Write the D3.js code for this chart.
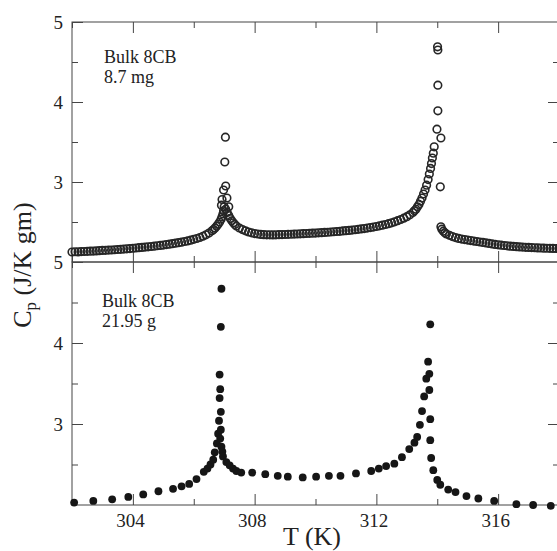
<!DOCTYPE html>
<html><head><meta charset="utf-8">
<script src="https://cdn.jsdelivr.net/npm/d3@7"></script>
<style>html,body{margin:0;padding:0;background:#fff;} svg{display:block;} svg text{font-family:"Liberation Serif","Times New Roman",Times,serif;}</style>
</head><body>
<svg id="chart" width="557" height="551"></svg>
<script>
// ---- Top panel (8.7 mg), open circles ----
const topT = [
  302.0,302.1,302.2,302.3,302.4,302.5,302.6,302.7,302.8,302.9,
  303.0,303.1,303.2,303.3,303.4,303.5,303.6,303.7,303.8,303.9,
  304.0,304.1,304.2,304.3,304.4,304.5,304.6,304.7,304.8,304.9,
  305.0,305.1,305.2,305.3,305.4,305.5,305.6,305.7,305.8,305.9,
  306.0,306.1,306.2,306.3,306.4,306.5,306.6,306.65,306.7,306.75,
  306.8,306.85,306.9,306.93,306.96,306.98,307.0,
  306.91,306.93,306.98,307.05,307.09,307.02,307.04,307.15,
  307.05,307.1,307.15,307.2,307.25,307.3,307.35,307.4,307.5,307.6,
  307.7,307.8,307.9,308.0,
  308.1,308.2,308.3,308.4,308.5,308.6,308.7,308.8,308.9,309.0,
  309.1,309.2,309.3,309.4,309.5,309.6,309.7,309.8,309.9,310.0,
  310.1,310.2,310.3,310.4,310.5,310.6,310.7,310.8,310.9,311.0,
  311.1,311.2,311.3,311.4,311.5,311.6,311.7,311.8,311.9,312.0,
  312.1,312.2,312.3,312.4,312.5,312.6,312.7,312.8,312.9,313.0,
  313.1,313.2,313.25,313.3,313.35,313.4,313.45,313.5,313.55,313.6,
  313.65,313.7,313.74,313.78,313.81,313.84,313.87,313.9,
  313.99,314.12,314.02,314.02,314.02,314.01,314.10,
  314.12,314.15,314.2,314.25,314.3,314.4,314.5,314.6,314.7,314.8,314.9,
  315.0,315.1,315.2,315.3,315.4,315.5,315.6,315.7,315.8,315.9,
  316.0,316.1,316.2,316.3,316.4,316.5,316.6,316.7,316.8,316.9,
  317.0,317.1,317.2,317.3,317.4,317.5,317.6,317.7,317.8,317.9,318.0
];
const topCp = [
  2.125,2.128,2.126,2.130,2.131,2.133,2.135,2.136,2.139,2.141,
  2.145,2.146,2.149,2.150,2.153,2.156,2.158,2.162,2.165,2.168,
  2.172,2.175,2.179,2.182,2.186,2.190,2.194,2.198,2.203,2.207,
  2.212,2.218,2.223,2.229,2.235,2.241,2.248,2.256,2.264,2.273,
  2.283,2.294,2.306,2.322,2.340,2.362,2.390,2.405,2.425,2.447,
  2.472,2.500,2.535,2.565,2.600,2.640,2.690,
  2.71,2.78,2.90,2.95,2.80,3.25,3.56,2.69,
  2.66,2.62,2.58,2.545,2.515,2.49,2.47,2.45,2.425,2.405,
  2.39,2.375,2.365,2.355,
  2.350,2.345,2.342,2.340,2.340,2.338,2.340,2.341,2.343,2.344,
  2.346,2.347,2.349,2.350,2.352,2.354,2.356,2.358,2.360,2.362,
  2.365,2.367,2.370,2.372,2.375,2.378,2.381,2.384,2.388,2.391,
  2.395,2.399,2.403,2.408,2.413,2.418,2.424,2.430,2.437,2.444,
  2.452,2.460,2.469,2.479,2.490,2.502,2.516,2.531,2.548,2.567,
  2.59,2.62,2.64,2.66,2.69,2.72,2.76,2.80,2.85,2.90,
  2.96,3.03,3.10,3.17,3.23,3.30,3.36,3.44,
  3.66,3.55,3.89,4.21,4.65,4.69,2.94,
  2.44,2.41,2.385,2.365,2.35,2.333,2.318,2.305,2.295,2.287,2.280,
  2.274,2.268,2.262,2.256,2.250,2.245,2.238,2.232,2.226,2.220,
  2.215,2.210,2.206,2.202,2.198,2.195,2.192,2.189,2.186,2.184,
  2.182,2.180,2.178,2.176,2.175,2.173,2.172,2.171,2.170,2.169,2.168
];
// ---- Bottom panel (21.95 g), filled circles ----
const botT = [
  302.07,302.70,303.32,303.85,304.34,304.84,305.32,305.60,305.85,306.09,
  306.33,306.45,306.55,306.64,306.69,306.76,306.80,306.83,306.85,306.85,
  306.87,306.87,306.89,306.89,306.89,306.91,306.91,306.94,306.96,307.07,
  307.18,307.29,307.40,307.56,307.92,308.35,308.76,309.09,309.58,310.02,
  310.44,310.82,311.33,311.83,312.08,312.32,312.59,312.84,313.08,313.25,
  313.34,313.43,313.50,313.57,313.64,313.70,313.74,313.74,313.77,313.77,
  313.77,313.80,313.87,314.00,314.10,314.36,314.60,314.96,315.35,315.87,
  316.60,317.15,317.73
];
const botCp = [
  2.03,2.05,2.07,2.10,2.13,2.17,2.20,2.23,2.26,2.32,
  2.41,2.45,2.50,2.56,2.65,2.76,2.88,3.04,3.32,3.61,
  2.82,3.43,2.93,3.15,4.20,4.67,2.72,2.66,2.60,2.53,
  2.49,2.45,2.42,2.40,2.40,2.38,2.36,2.35,2.34,2.35,
  2.36,2.36,2.39,2.42,2.45,2.48,2.51,2.59,2.69,2.77,
  2.84,2.99,3.16,3.34,3.56,3.77,3.62,3.42,4.23,3.06,
  2.80,2.58,2.43,2.31,2.25,2.19,2.16,2.11,2.08,2.05,
  2.01,2.00,1.99
];
const xMajorTicks = [304, 308, 312, 316];
const xMinorTicks = [302, 306, 310, 314, 318];
const yMajorTicks = [3, 4, 5];
const yMinorTicks = [2.5, 3.5, 4.5];
const topLabel = ["Bulk 8CB", "8.7 mg"];
const botLabel = ["Bulk 8CB", "21.95 g"];
const xTitle = "T (K)";

const svg = d3.select("#chart");
const font = "'Liberation Serif','Times New Roman',Times,serif";
const axisColor = "#454545";
const textColor = "#222";

const x = d3.scaleLinear().domain([302, 318]).range([72, 559]);
const yTop = d3.scaleLinear().domain([2, 5]).range([262, 22]);
const yBot = d3.scaleLinear().domain([2, 5]).range([505, 262]);

function styleAxis(g) {
  g.select(".domain").remove();
  g.selectAll("line").attr("stroke", axisColor).attr("stroke-width", 1);
  g.selectAll("text").attr("font-family", font).attr("font-size", 19).attr("fill", textColor);
}

function drawPanel(y, showXLabels) {
  const y0 = y(5), y1 = y(2);
  svg.append("rect").attr("x", x(302)).attr("y", y0)
    .attr("width", x(318) - x(302)).attr("height", y1 - y0)
    .attr("fill", "none").attr("stroke", axisColor).attr("stroke-width", 1);
  svg.append("g").attr("transform", `translate(${x(302)},0)`)
    .call(d3.axisLeft(y).tickValues(yMajorTicks).tickSize(-11).tickSizeOuter(0).tickPadding(9).tickFormat(d3.format("d")))
    .call(styleAxis);
  svg.append("g").attr("transform", `translate(${x(302)},0)`)
    .call(d3.axisLeft(y).tickValues(yMinorTicks).tickSize(-6).tickSizeOuter(0).tickFormat(""))
    .call(styleAxis);
  svg.append("g").attr("transform", `translate(${x(318)},0)`)
    .call(d3.axisRight(y).tickValues([3, 4]).tickSize(-11).tickSizeOuter(0).tickFormat(""))
    .call(styleAxis);
  svg.append("g").attr("transform", `translate(${x(318)},0)`)
    .call(d3.axisRight(y).tickValues(yMinorTicks).tickSize(-6).tickSizeOuter(0).tickFormat(""))
    .call(styleAxis);
  svg.append("g").attr("transform", `translate(0,${y0})`)
    .call(d3.axisTop(x).tickValues(xMajorTicks).tickSize(-11).tickSizeOuter(0).tickFormat(""))
    .call(styleAxis);
  svg.append("g").attr("transform", `translate(0,${y0})`)
    .call(d3.axisTop(x).tickValues(xMinorTicks).tickSize(-6).tickSizeOuter(0).tickFormat(""))
    .call(styleAxis);
  const gb = svg.append("g").attr("transform", `translate(0,${y1})`)
    .call(d3.axisBottom(x).tickValues(xMajorTicks).tickSize(-11).tickSizeOuter(0).tickPadding(9)
      .tickFormat(showXLabels ? d3.format("d") : ""))
    .call(styleAxis);
  gb.selectAll("text").attr("dx", -3);
  svg.append("g").attr("transform", `translate(0,${y1})`)
    .call(d3.axisBottom(x).tickValues(xMinorTicks).tickSize(-6).tickSizeOuter(0).tickFormat(""))
    .call(styleAxis);
}

drawPanel(yTop, false);
drawPanel(yBot, true);

svg.append("g").selectAll("circle").data(d3.zip(topT, topCp)).join("circle")
  .attr("cx", d => x(d[0])).attr("cy", d => yTop(d[1])).attr("r", 3.8)
  .attr("fill", "none").attr("stroke", "#262626").attr("stroke-width", 1.6);

svg.append("g").selectAll("circle").data(d3.zip(botT, botCp)).join("circle")
  .attr("cx", d => x(d[0])).attr("cy", d => yBot(d[1])).attr("r", 3.9)
  .attr("fill", "#161616");

function annot(lines, xx, yy) {
  svg.append("g").selectAll("text").data(lines).join("text")
    .attr("x", xx).attr("y", (d, i) => yy + i * 20)
    .attr("font-family", font).attr("font-size", 18).attr("fill", textColor).text(d => d);
}
annot(topLabel, 104, 63);
annot(botLabel, 102, 307);

const yl = svg.append("text").attr("transform", "translate(31,265) rotate(-90)")
  .attr("text-anchor", "middle").attr("font-family", font).attr("font-size", 26).attr("fill", textColor);
yl.append("tspan").text("C");
yl.append("tspan").attr("font-size", 17).attr("dy", 5).text("p");
yl.append("tspan").attr("dy", -5).text(" (J/K gm)");

svg.append("text").attr("x", 312).attr("y", 545).attr("text-anchor", "middle")
  .attr("font-family", font).attr("font-size", 26).attr("fill", textColor).text(xTitle);
</script>
</body></html>
